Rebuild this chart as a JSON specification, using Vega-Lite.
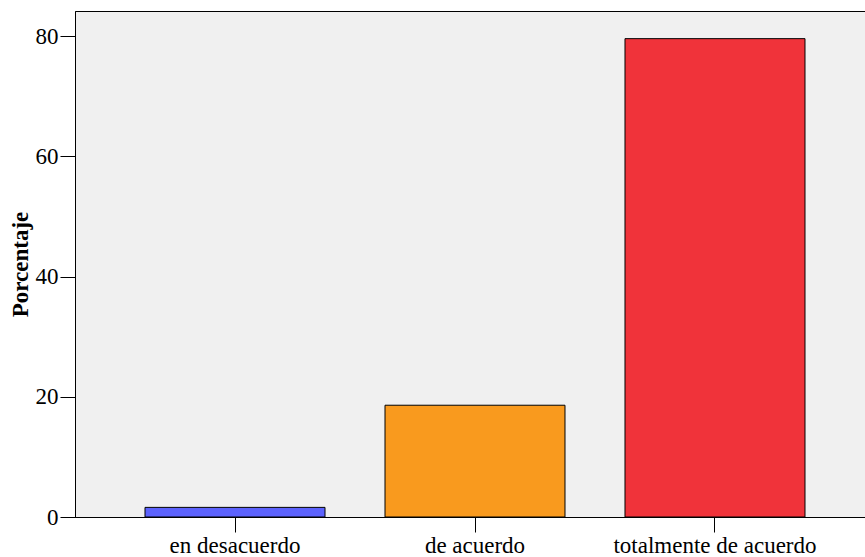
{
  "$schema": "https://vega.github.io/schema/vega-lite/v6.json",
  "width": 800,
  "height": 506,
  "autosize": {"type": "none"},
  "padding": {"left": 75, "top": 11, "right": 0, "bottom": 40},
  "background": "white",
  "config": {
    "view": {"fill": "#f0f0f0", "stroke": "black", "strokeWidth": 1},
    "font": "Times New Roman"
  },
  "data": {
    "values": [
      {"categoria": "en desacuerdo", "porcentaje": 1.6},
      {"categoria": "de acuerdo", "porcentaje": 18.6},
      {"categoria": "totalmente de acuerdo", "porcentaje": 79.6}
    ]
  },
  "mark": {"type": "bar", "stroke": "black", "strokeWidth": 1},
  "encoding": {
    "x": {
      "field": "categoria",
      "type": "nominal",
      "sort": null,
      "scale": {"paddingInner": 0.25, "paddingOuter": 0.2917},
      "axis": {
        "title": null,
        "labelAngle": 0,
        "labelFont": "Times New Roman",
        "labelFontSize": 23,
        "labelLimit": 0,
        "labelColor": "black",
        "tickColor": "black",
        "tickSize": 15,
        "domainColor": "black",
        "labelPadding": 2
      }
    },
    "y": {
      "field": "porcentaje",
      "type": "quantitative",
      "scale": {"domain": [0, 84.2], "nice": false, "zero": true},
      "axis": {
        "title": "Porcentaje",
        "titleFont": "Times New Roman",
        "titleFontSize": 23,
        "titleFontWeight": "bold",
        "titleColor": "black",
        "titlePadding": 3,
        "values": [0, 20, 40, 60, 80],
        "grid": false,
        "labelFont": "Times New Roman",
        "labelFontSize": 23,
        "labelColor": "black",
        "tickColor": "black",
        "tickSize": 15,
        "labelPadding": 2,
        "domainColor": "black"
      }
    },
    "color": {
      "field": "categoria",
      "type": "nominal",
      "sort": null,
      "scale": {
        "domain": ["en desacuerdo", "de acuerdo", "totalmente de acuerdo"],
        "range": ["#5c62fd", "#f99a1e", "#f0333a"]
      },
      "legend": null
    }
  }
}
